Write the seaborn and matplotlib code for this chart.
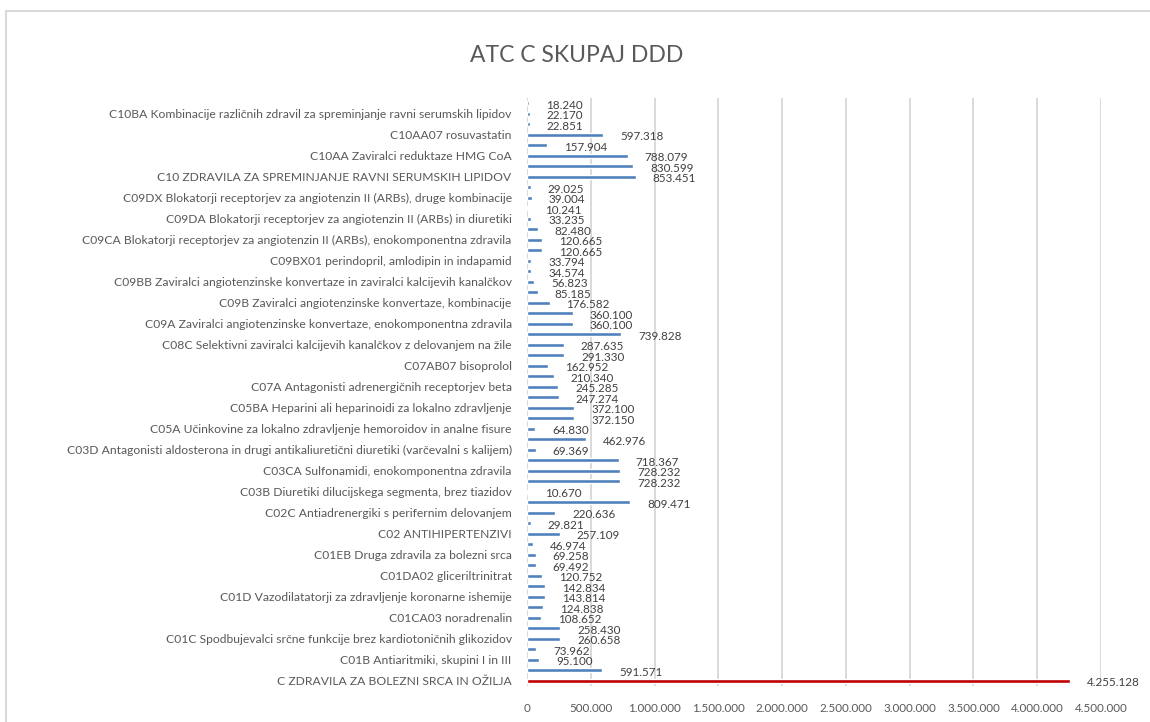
import matplotlib
matplotlib.use("Agg")
import matplotlib.pyplot as plt
import seaborn as sns
import pandas as pd
from matplotlib.patches import Rectangle

# Categories listed top to bottom (only every other one is labelled on the axis)
names = [
    "C10BA05 ezetimib in atorvastatin",
    "C10BA Kombinacije različnih zdravil za spreminjanje ravni serumskih lipidov",
    "C10B Kombinacije zdravil za spreminjanje ravni lipidov",
    "C10AA07 rosuvastatin",
    "C10AA05 atorvastatin",
    "C10AA Zaviralci reduktaze HMG CoA",
    "C10A Zdravila za spreminjanje ravni lipidov, enokomponentna",
    "C10 ZDRAVILA ZA SPREMINJANJE RAVNI SERUMSKIH LIPIDOV",
    "C09DX04 valsartan in sakubitril",
    "C09DX Blokatorji receptorjev za angiotenzin II (ARBs), druge kombinacije",
    "C09DB Blokatorji receptorjev za angiotenzin II in zaviralci kalcijevih kanalčkov",
    "C09DA Blokatorji receptorjev za angiotenzin II (ARBs) in diuretiki",
    "C09D Blokatorji receptorjev za angiotenzin II, kombinacije",
    "C09CA Blokatorji receptorjev za angiotenzin II (ARBs), enokomponentna zdravila",
    "C09C Blokatorji receptorjev za angiotenzin II, enokomponentna",
    "C09BX01 perindopril, amlodipin in indapamid",
    "C09BX Zaviralci angiotenzinske konvertaze, druge kombinacije",
    "C09BB Zaviralci angiotenzinske konvertaze in zaviralci kalcijevih kanalčkov",
    "C09BA Zaviralci angiotenzinske konvertaze in diuretiki",
    "C09B Zaviralci angiotenzinske konvertaze, kombinacije",
    "C09AA Zaviralci angiotenzinske konvertaze",
    "C09A Zaviralci angiotenzinske konvertaze, enokomponentna zdravila",
    "C09 ZDRAVILA Z DELOVANJEM NA RENIN-ANGIOTENZINSKI SISTEM",
    "C08C Selektivni zaviralci kalcijevih kanalčkov z delovanjem na žile",
    "C08 ZAVIRALCI KALCIJEVIH KANALČKOV",
    "C07AB07 bisoprolol",
    "C07AB Selektivni antagonisti adrenergičnih receptorjev beta",
    "C07A Antagonisti adrenergičnih receptorjev beta",
    "C07 ANTAGONISTI ADRENERGIČNIH RECEPTORJEV BETA",
    "C05BA Heparini ali heparinoidi za lokalno zdravljenje",
    "C05B Zdravila za zdravljenje krčnih žil",
    "C05A Učinkovine za lokalno zdravljenje hemoroidov in analne fisure",
    "C05 VAZOPROTEKTIVI",
    "C03D Antagonisti aldosterona in drugi antikaliuretični diuretiki (varčevalni s kalijem)",
    "C03CA01 furosemid",
    "C03CA Sulfonamidi, enokomponentna zdravila",
    "C03C Diuretiki Henlejeve zanke",
    "C03B Diuretiki dilucijskega segmenta, brez tiazidov",
    "C03 DIURETIKI",
    "C02C Antiadrenergiki s perifernim delovanjem",
    "C02A Antiadrenergiki s centralnim delovanjem",
    "C02 ANTIHIPERTENZIVI",
    "C01EB17 ivabradin",
    "C01EB Druga zdravila za bolezni srca",
    "C01E Druga zdravila za bolezni srca",
    "C01DA02 gliceriltrinitrat",
    "C01DA Organski nitrati",
    "C01D Vazodilatatorji za zdravljenje koronarne ishemije",
    "C01CA Adrenergiki in dopaminergiki",
    "C01CA03 noradrenalin",
    "C01CA04 dopamin",
    "C01C Spodbujevalci srčne funkcije brez kardiotoničnih glikozidov",
    "C01BD Antiaritmiki, skupina III",
    "C01B Antiaritmiki, skupini I in III",
    "C01 ZDRAVLJENJE BOLEZNI SRCA",
    "C ZDRAVILA ZA BOLEZNI SRCA IN OŽILJA",
]
ddd = [
    18240, 22170, 22851, 597318, 157904, 788079, 830599, 853451,
    29025, 39004, 10241, 33235, 82480, 120665, 120665, 33794,
    34574, 56823, 85185, 176582, 360100, 360100, 739828, 287635,
    291330, 162952, 210340, 245285, 247274, 372100, 372150, 64830,
    462976, 69369, 718367, 728232, 728232, 10670, 809471, 220636,
    29821, 257109, 46974, 69258, 69492, 120752, 142834, 143814,
    124838, 108652, 258430, 260658, 73962, 95100, 591571, 4255128,
]
groups = ["sub"] * (len(names) - 1) + ["total"]
xticks = [0, 500000, 1000000, 1500000, 2000000, 2500000, 3000000, 3500000, 4000000, 4500000]

df = pd.DataFrame({"name": names, "ddd": ddd, "group": groups})

def fmt(v):
    return f"{v:,}".replace(",", ".")

sns.set_theme(style="white")
plt.rcParams["font.family"] = ["Lato", "DejaVu Sans"]

fig = plt.figure(figsize=(11.5, 7.22), dpi=100)
ax = fig.add_axes([527 / 1150, 36 / 722, 574 / 1150, 588 / 722])

sns.barplot(data=df, x="ddd", y="name", hue="group",
            palette={"sub": "#4F81BD", "total": "#C00000"},
            order=names, width=0.4, dodge=False, legend=False,
            saturation=1, ax=ax)

ax.set_xlim(0, 4500000)
ax.set_ylim(len(names) - 0.5, -0.5)
ax.set_xticks(xticks)
ax.set_xticklabels([fmt(t) for t in xticks], fontsize=8.4, color="#595959")
ax.set_yticks(range(1, len(names), 2))
ax.set_yticklabels(names[1::2], fontsize=8.7, color="#595959")
ax.tick_params(axis="both", length=0)
ax.tick_params(axis="y", pad=11)
ax.tick_params(axis="x", pad=12)
ax.set_xlabel("")
ax.set_ylabel("")
for s in ax.spines.values():
    s.set_visible(False)
ax.xaxis.grid(True, color="#D9D9D9", linewidth=1.4)
ax.yaxis.grid(False)
ax.set_axisbelow(True)

for i, v in enumerate(ddd):
    ax.annotate(fmt(v), xy=(v, i), xytext=(17, -2), textcoords="offset pixels",
                ha="left", va="center", fontsize=8.4, color="#404040")

fig.text(577 / 1150, 1 - 55 / 722, "ATC C SKUPAJ DDD", ha="center", va="center",
         fontsize=16.5, color="#595959")

fig.patches.append(Rectangle((6 / 1150, -0.1), 1.2, 1.1 - 11 / 722,
                             transform=fig.transFigure, fill=False,
                             edgecolor="#D9D9D9", linewidth=1.5, zorder=0))

fig.savefig("out.png", dpi=100, facecolor="white")
